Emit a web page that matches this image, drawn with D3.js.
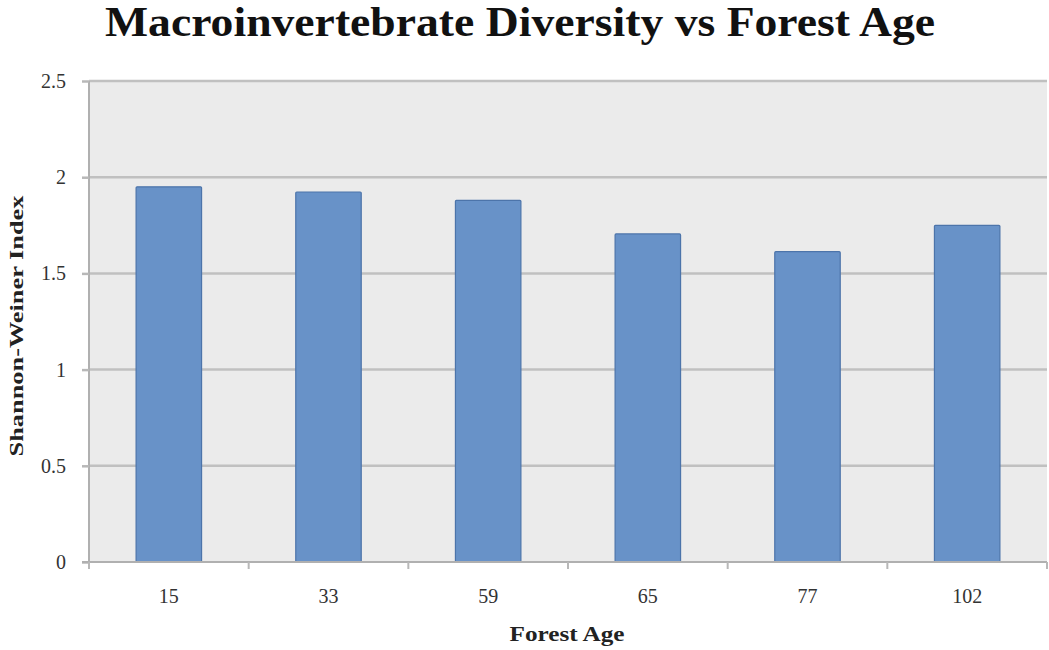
<!DOCTYPE html>
<html>
<head>
<meta charset="utf-8">
<script src="https://cdn.jsdelivr.net/npm/d3@7"></script>
<style>
  html, body { margin: 0; padding: 0; background: #fff; }
  svg { display: block; }
  text { font-family: "Liberation Serif", "DejaVu Serif", serif; }
</style>
</head>
<body>
<svg id="chart" width="1049" height="650"></svg>
<script>
// Forest age classes (years) and the Shannon-Weiner diversity index for each
const forestAges = ["15", "33", "59", "65", "77", "102"];
const diversityIndex = [1.95, 1.923, 1.88, 1.705, 1.613, 1.75];
const yTicks = [0, 0.5, 1, 1.5, 2, 2.5];
const yTickLabels = ["0", "0.5", "1", "1.5", "2", "2.5"];

const titleText = "Macroinvertebrate Diversity vs Forest Age";
const xAxisTitle = "Forest Age";
const yAxisTitle = "Shannon-Weiner Index";

const svg = d3.select("#chart");
const margin = { left: 89, right: 2, top: 81, bottom: 88 };
const W = 1049, H = 650;
const plotW = W - margin.left - margin.right;
const plotH = H - margin.top - margin.bottom;

const x = d3.scaleBand().domain(forestAges).range([0, plotW]).paddingInner(0.59).paddingOuter(0.295);
const y = d3.scaleLinear().domain([0, 2.5]).range([plotH, 0]);

const g = svg.append("g").attr("transform", `translate(${margin.left},${margin.top})`);

// plot background
g.append("rect").attr("x", 0).attr("y", 0).attr("width", plotW).attr("height", plotH).attr("fill", "#ebebeb");

// horizontal gridlines
g.append("g").selectAll("line").data(yTicks.filter(d => d > 0)).join("line")
  .attr("x1", 0).attr("x2", plotW)
  .attr("y1", d => y(d)).attr("y2", d => y(d))
  .attr("stroke", "#c0c0c0").attr("stroke-width", 2.5);

// bars
g.append("g").selectAll("rect").data(forestAges).join("rect")
  .attr("x", d => x(d))
  .attr("y", (d, i) => y(diversityIndex[i]))
  .attr("width", x.bandwidth())
  .attr("height", (d, i) => y(0) - y(diversityIndex[i]))
  .attr("fill", "#6892c8")
  .attr("stroke", "#4c74aa").attr("stroke-width", 1.2)
  .attr("rx", 1);

// y axis
const yAxis = d3.axisLeft(y).tickValues(yTicks).tickSize(7).tickPadding(16)
  .tickFormat((d, i) => yTickLabels[i]);
const yg = g.append("g").call(yAxis);
yg.select(".domain").attr("stroke", "#b0b0b0").attr("stroke-width", 2).attr("d", `M0,${plotH}V0`);
yg.selectAll(".tick line").attr("stroke", "#b8b8b8").attr("stroke-width", 2.5);
yg.selectAll(".tick text").attr("fill", "#333").style("font-size", "20px");

// x axis
const xTickScale = d3.scaleLinear().domain([0, forestAges.length]).range([0, plotW]);
const xg = g.append("g").attr("transform", `translate(0,${plotH})`);
xg.append("line").attr("x1", -7).attr("x2", plotW).attr("y1", 0).attr("y2", 0)
  .attr("stroke", "#b0b0b0").attr("stroke-width", 2);
xg.selectAll("line.tk").data(d3.range(forestAges.length + 1)).join("line").attr("class", "tk")
  .attr("x1", d => xTickScale(d)).attr("x2", d => xTickScale(d))
  .attr("y1", 0).attr("y2", 7)
  .attr("stroke", "#b8b8b8").attr("stroke-width", 2);
xg.selectAll("text").data(forestAges).join("text")
  .attr("x", d => x(d) + x.bandwidth() / 2)
  .attr("y", 41)
  .attr("text-anchor", "middle")
  .attr("fill", "#333")
  .style("font-size", "20px")
  .text(d => d);

// title
svg.append("text")
  .attr("x", 520).attr("y", 36)
  .attr("text-anchor", "middle")
  .attr("textLength", 830).attr("lengthAdjust", "spacingAndGlyphs")
  .style("font-size", "42px").style("font-weight", "bold")
  .attr("fill", "#111")
  .text(titleText);

// axis titles
svg.append("text")
  .attr("x", 567).attr("y", 641)
  .attr("text-anchor", "middle")
  .attr("textLength", 115).attr("lengthAdjust", "spacingAndGlyphs")
  .style("font-size", "20px").style("font-weight", "bold")
  .attr("fill", "#222")
  .text(xAxisTitle);

svg.append("text")
  .attr("transform", "translate(23,326) rotate(-90)")
  .attr("text-anchor", "middle")
  .attr("textLength", 261).attr("lengthAdjust", "spacingAndGlyphs")
  .style("font-size", "19px").style("font-weight", "bold")
  .attr("fill", "#222")
  .text(yAxisTitle);
</script>
</body>
</html>
